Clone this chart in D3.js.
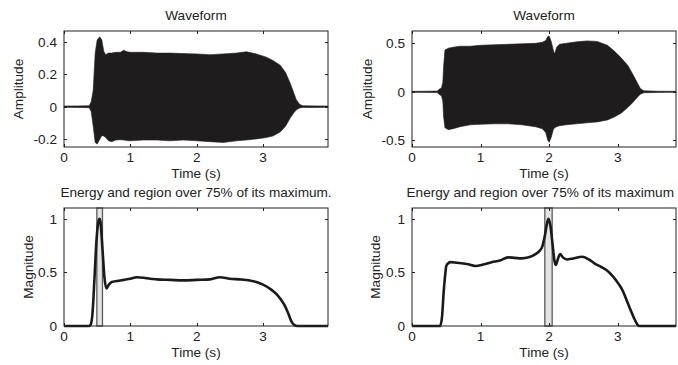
<!DOCTYPE html>
<html><head><meta charset="utf-8">
<script src="https://cdn.jsdelivr.net/npm/d3@7"></script>
<style>
html,body{margin:0;padding:0;background:#fff;overflow:hidden}
text{font-family:"Liberation Sans",Arial,Helvetica,sans-serif;fill:#222}
</style></head>
<body><svg id="c" width="678" height="365"></svg>
<script>
// ---- data ----
const xTicks = [0, 1, 2, 3];
const yTicksWaveL = [-0.2, 0, 0.2, 0.4];
const yTicksWaveR = [-0.5, 0, 0.5];
const yTicksEnergy = [0, 0.5, 1];

const waveTimeL  = [0, 0.2, 0.38, 0.41, 0.44, 0.47, 0.5, 0.54, 0.57, 0.6, 0.63, 0.67, 0.72, 0.78, 0.85, 0.9, 0.95, 1.0, 1.2, 1.4, 1.6, 1.8, 2.0, 2.2, 2.4, 2.6, 2.75, 2.9, 3.05, 3.15, 3.26, 3.34, 3.41, 3.46, 3.5, 3.55, 3.6, 3.8, 3.98];
const waveUpperL = [0.004, 0.005, 0.006, 0.03, 0.1, 0.33, 0.41, 0.43, 0.41, 0.34, 0.32, 0.33, 0.33, 0.335, 0.335, 0.348, 0.338, 0.335, 0.335, 0.33, 0.33, 0.327, 0.325, 0.32, 0.325, 0.33, 0.338, 0.325, 0.305, 0.285, 0.255, 0.21, 0.145, 0.09, 0.045, 0.015, 0.006, 0.005, 0.004];
const waveLowerL = [-0.004, -0.005, -0.006, -0.03, -0.12, -0.22, -0.23, -0.2, -0.178, -0.18, -0.19, -0.21, -0.215, -0.205, -0.203, -0.205, -0.208, -0.21, -0.205, -0.205, -0.21, -0.205, -0.21, -0.215, -0.22, -0.21, -0.205, -0.198, -0.19, -0.18, -0.155, -0.12, -0.07, -0.04, -0.02, -0.008, -0.005, -0.005, -0.004];

const waveTimeR  = [0, 0.2, 0.37, 0.4, 0.43, 0.45, 0.46, 0.48, 0.53, 0.6, 0.7, 0.85, 1.0, 1.2, 1.4, 1.6, 1.8, 1.9, 1.95, 1.98, 2.0, 2.03, 2.06, 2.08, 2.11, 2.15, 2.25, 2.4, 2.55, 2.7, 2.85, 2.95, 3.05, 3.15, 3.22, 3.28, 3.33, 3.38, 3.6, 3.85];
const waveUpperR = [0.005, 0.006, 0.008, 0.03, 0.04, 0.1, 0.25, 0.43, 0.45, 0.46, 0.47, 0.47, 0.48, 0.485, 0.49, 0.495, 0.5, 0.51, 0.53, 0.57, 0.575, 0.52, 0.43, 0.39, 0.46, 0.49, 0.5, 0.515, 0.525, 0.52, 0.48, 0.42, 0.35, 0.27, 0.18, 0.1, 0.035, 0.01, 0.006, 0.005];
const waveLowerR = [-0.005, -0.006, -0.008, -0.03, -0.04, -0.1, -0.25, -0.37, -0.39, -0.38, -0.36, -0.34, -0.335, -0.33, -0.33, -0.34, -0.36, -0.38, -0.42, -0.5, -0.52, -0.47, -0.39, -0.37, -0.36, -0.35, -0.34, -0.33, -0.32, -0.31, -0.29, -0.26, -0.22, -0.16, -0.11, -0.06, -0.025, -0.01, -0.006, -0.005];

const energyTimeL = [0, 0.38, 0.4, 0.43, 0.46, 0.49, 0.52, 0.535, 0.55, 0.58, 0.61, 0.64, 0.67, 0.72, 0.8, 0.9, 1.0, 1.1, 1.2, 1.3, 1.4, 1.6, 1.8, 2.0, 2.2, 2.35, 2.5, 2.65, 2.8, 2.9, 3.0, 3.1, 3.2, 3.26, 3.32, 3.38, 3.43, 3.47, 3.52, 3.98];
const energyL     = [0, 0, 0.01, 0.12, 0.45, 0.8, 0.98, 1.0, 0.97, 0.72, 0.45, 0.35, 0.38, 0.41, 0.42, 0.43, 0.44, 0.455, 0.45, 0.44, 0.435, 0.43, 0.425, 0.43, 0.435, 0.455, 0.44, 0.435, 0.425, 0.41, 0.385, 0.35, 0.3, 0.255, 0.2, 0.12, 0.04, 0.01, 0, 0];

const energyTimeR = [0, 0.41, 0.44, 0.46, 0.48, 0.5, 0.53, 0.56, 0.65, 0.72, 0.82, 0.92, 1.05, 1.16, 1.28, 1.4, 1.5, 1.6, 1.7, 1.8, 1.86, 1.9, 1.94, 1.97, 1.99, 2.02, 2.05, 2.08, 2.1, 2.13, 2.16, 2.2, 2.26, 2.35, 2.48, 2.58, 2.67, 2.76, 2.84, 2.92, 3.01, 3.08, 3.13, 3.18, 3.23, 3.28, 3.31, 3.85];
const energyR     = [0, 0, 0.1, 0.3, 0.45, 0.56, 0.585, 0.595, 0.59, 0.585, 0.575, 0.56, 0.575, 0.595, 0.61, 0.64, 0.635, 0.63, 0.64, 0.67, 0.7, 0.74, 0.85, 0.96, 1.0, 0.93, 0.76, 0.6, 0.57, 0.63, 0.67, 0.64, 0.62, 0.63, 0.645, 0.62, 0.58, 0.55, 0.52, 0.47, 0.395, 0.32, 0.24, 0.16, 0.085, 0.02, 0, 0];

const regionL = [0.495, 0.58];
const regionR = [1.937, 2.044];

const titleWave = "Waveform";
const titleEnergyL = "Energy and region over 75% of its maximum.";
const titleEnergyR = "Energy and region over 75% of its maximum";
const xLabel = "Time (s)";
const yLabelWave = "Amplitude";
const yLabelEnergy = "Magnitude";

// ---- drawing ----
const svg = d3.select("#c");
const FS = 13.6;
const ink = "#222";

function panel(o) {
  const g = svg.append("g");
  const x = d3.scaleLinear().domain(o.xDom).range([o.left, o.right]);
  const y = d3.scaleLinear().domain(o.yDom).range([o.bottom, o.top]);

  if (o.wave) {
    const pts = o.wave.t.map((t, i) => ({t, hi: o.wave.hi[i], lo: o.wave.lo[i]}));
    g.append("path").datum(pts)
      .attr("d", d3.area().x(d => x(d.t)).y0(d => y(d.lo)).y1(d => y(d.hi)))
      .attr("fill", "#1e1c1c").attr("stroke", "#1e1c1c").attr("stroke-width", 0.6);
  }
  if (o.energy) {
    g.append("rect")
      .attr("x", x(o.region[0])).attr("y", y(o.yDom[1]))
      .attr("width", x(o.region[1]) - x(o.region[0]))
      .attr("height", y(o.yDom[0]) - y(o.yDom[1]))
      .attr("fill", "#e4e4e4").attr("stroke", "#5a5a5a").attr("stroke-width", 1.3);
    const pts = o.energy.t.map((t, i) => ({t, v: o.energy.v[i]}));
    g.append("path").datum(pts)
      .attr("d", d3.line().x(d => x(d.t)).y(d => y(d.v)).curve(d3.curveMonotoneX))
      .attr("fill", "none").attr("stroke", "#1a1a1a").attr("stroke-width", 2.6)
      .attr("stroke-linejoin", "round");
  }

  g.append("rect").attr("x", o.left).attr("y", o.top)
    .attr("width", o.right - o.left).attr("height", o.bottom - o.top)
    .attr("fill", "none").attr("stroke", ink).attr("stroke-width", 1);

  const tl = 3;
  o.xTicks.forEach(v => {
    const px = Math.round(x(v)) + 0.5;
    g.append("line").attr("x1", px).attr("x2", px).attr("y1", o.bottom).attr("y2", o.bottom - tl).attr("stroke", ink);
    g.append("line").attr("x1", px).attr("x2", px).attr("y1", o.top).attr("y2", o.top + tl).attr("stroke", ink);
    g.append("text").attr("x", x(v)).attr("y", o.bottom + 15).attr("text-anchor", "middle")
      .attr("font-size", FS).text(String(v));
  });
  o.yTicks.forEach(v => {
    const py = Math.round(y(v)) + 0.5;
    g.append("line").attr("x1", o.left).attr("x2", o.left + tl).attr("y1", py).attr("y2", py).attr("stroke", ink);
    g.append("line").attr("x1", o.right).attr("x2", o.right - tl).attr("y1", py).attr("y2", py).attr("stroke", ink);
    g.append("text").attr("x", o.left - 7).attr("y", y(v)).attr("dy", "0.36em").attr("text-anchor", "end")
      .attr("font-size", FS).text(String(v));
  });

  if (o.titleEnd) {
    g.append("text").attr("x", o.titleEnd).attr("y", o.top - 11)
      .attr("text-anchor", "end").attr("font-size", FS).text(o.title);
  } else {
    g.append("text").attr("x", (o.left + o.right) / 2).attr("y", o.top - 11)
      .attr("text-anchor", "middle").attr("font-size", FS).text(o.title);
  }
  g.append("text").attr("x", (o.left + o.right) / 2).attr("y", o.bottom + 31)
    .attr("text-anchor", "middle").attr("font-size", FS).text(xLabel);
  g.append("text").attr("transform", `translate(${o.ylabX},${(o.top + o.bottom) / 2}) rotate(-90)`)
    .attr("dy", "0.36em").attr("text-anchor", "middle").attr("font-size", FS).text(o.ylab);
}

const L = {left: 64, right: 328}, R = {left: 412, right: 676};
const T = {top: 31, bottom: 147}, B = {top: 208, bottom: 326};

panel({...L, ...T, xDom: [0, 3.98], yDom: [-0.248, 0.466], xTicks, yTicks: yTicksWaveL,
  wave: {t: waveTimeL, hi: waveUpperL, lo: waveLowerL}, title: titleWave, ylab: yLabelWave, ylabX: 18.5});
panel({...R, ...T, xDom: [0, 3.85], yDom: [-0.569, 0.627], xTicks, yTicks: yTicksWaveR,
  wave: {t: waveTimeR, hi: waveUpperR, lo: waveLowerR}, title: titleWave, ylab: yLabelWave, ylabX: 367.5});
panel({...L, ...B, xDom: [0, 3.98], yDom: [0, 1.1], xTicks, yTicks: yTicksEnergy,
  energy: {t: energyTimeL, v: energyL}, region: regionL, title: titleEnergyL, ylab: yLabelEnergy, ylabX: 28});
panel({...R, ...B, xDom: [0, 3.85], yDom: [0, 1.1], xTicks, yTicks: yTicksEnergy,
  energy: {t: energyTimeR, v: energyR}, region: regionR, title: titleEnergyR, titleEnd: 674, ylab: yLabelEnergy, ylabX: 375.5});
</script></body></html>
